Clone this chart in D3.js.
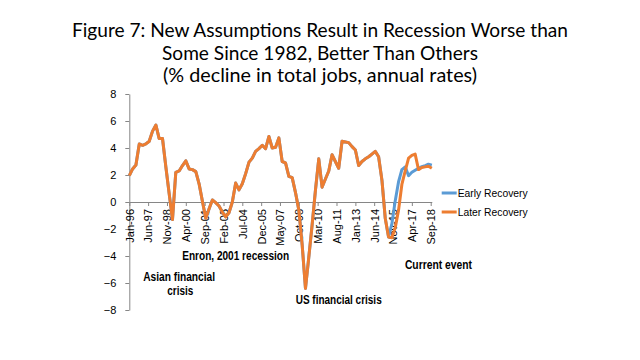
<!DOCTYPE html>
<html lang="en">
<head>
<meta charset="UTF-8">
<title>Figure 7</title>
<style>
  body { margin: 0; background: #fff; }
  svg { display: block; }
</style>
</head>
<body>
<svg width="640" height="360"></svg>
<script src="https://d3js.org/d3.v7.min.js"></script>
<script>
// quarterly values, Jan-96 .. Oct-18
const laterRecovery = [
  1.95, 2.45, 2.74, 4.3, 4.2, 4.3, 4.5, 5.25, 5.7, 4.7,
  4.7, 2.6, 0.6, -1.3, 2.2, 2.3, 2.7, 3.05, 2.45, 2.4,
  2.25, 1.35, 0.05, -1.2, -0.5, 0.15, -0.05, -0.3, -0.75, -1.1,
  -0.8, 0.0, 1.4, 0.9, 1.35, 2.1, 2.95, 3.25, 3.75, 3.95,
  4.2, 3.95, 4.85, 4.0, 4.05, 4.75, 3.0, 2.9, 1.9, 1.8,
  0.7, -0.6, -3.2, -6.4, -4.1, -1.7, 0.9, 3.2, 1.1, 1.7,
  2.3, 3.5, 3.0, 2.5, 4.5, 4.45, 4.4, 4.1, 3.85, 2.7,
  3.0, 3.2, 3.35, 3.55, 3.75, 3.35, 1.6, -1.2, -2.6, -2.65,
  -1.9, -0.6, 1.3, 2.3, 3.25, 3.45, 3.55, 2.4, 2.55, 2.6,
  2.65, 2.5
];
// early recovery is the same series until late 2015
const earlySplit = 79;
const earlyTail = [-1.6, 0.1, 1.5, 2.4, 2.6, 1.95, 2.2, 2.35, 2.5, 2.62, 2.7, 2.8, 2.72];
const earlyRecovery = laterRecovery.slice(0, earlySplit).concat(earlyTail);

const xTickLabels = ["Jan-96", "Jun-97", "Nov-98", "Apr-00", "Sep-01", "Feb-03", "Jul-04",
  "Dec-05", "May-07", "Oct-08", "Mar-10", "Aug-11", "Jan-13", "Jun-14", "Nov-15", "Apr-17", "Sep-18"];
const yTicks = [-8, -6, -4, -2, 0, 2, 4, 6, 8];

const titleLines = [
  "Figure 7: New Assumptions Result in Recession Worse than",
  "Some Since 1982, Better Than Others",
  "(% decline in total jobs, annual rates)"
];

const notes = [
  { text: "Enron, 2001 recession", date: "2004-01", value: -4.0, w: 107 },
  { text: "Asian financial", date: "1999-10", value: -5.55, w: 72 },
  { text: "crisis", date: "1999-11", value: -6.57, w: 26 },
  { text: "US financial crisis", date: "2011-10", value: -7.26, w: 86 },
  { text: "Current event", date: "2019-04", value: -4.67, w: 67 }
];

const series = [
  { name: "Early Recovery", color: "#5B9BD5", values: earlyRecovery },
  { name: "Later Recovery", color: "#ED7D31", values: laterRecovery }
];

const svg = d3.select("svg");
const start = new Date(1996, 0, 1);
const parseTick = d3.timeParse("%b-%y");
const parseMonth = d3.timeParse("%Y-%m");
const dateAt = i => d3.timeMonth.offset(start, 3 * i);

const x = d3.scaleTime()
  .domain([start, new Date(2018, 9, 1)])
  .range([129.3, 431.8]);
const y = d3.scaleLinear().domain([-8, 8]).range([310, 94]);

// title
svg.append("g").selectAll("text")
  .data(titleLines)
  .join("text")
    .attr("x", 320)
    .attr("y", (d, i) => 37 + i * 22.5)
    .attr("text-anchor", "middle")
    .attr("font-family", "Lato, 'Open Sans', sans-serif")
    .attr("font-size", 19)
    .attr("textLength", (d, i) => [496, 316, 314][i])
    .attr("lengthAdjust", "spacingAndGlyphs")
    .text(d => d);

// y axis
const yAxis = svg.append("g")
  .attr("transform", `translate(${x.range()[0]},0)`)
  .call(d3.axisLeft(y).tickValues(yTicks).tickSize(4).tickSizeOuter(0).tickPadding(9));
yAxis.select(".domain").attr("stroke", "#868686");
yAxis.selectAll(".tick line").attr("stroke", "#868686");
yAxis.selectAll("text")
  .attr("font-family", "'Liberation Sans', Arial, sans-serif")
  .attr("font-size", 11)
  .attr("fill", "#000");

// x axis at zero
const xAxis = svg.append("g")
  .attr("transform", `translate(0,${y(0)})`)
  .call(d3.axisBottom(x)
    .tickValues(xTickLabels.map(parseTick))
    .tickFormat((d, i) => xTickLabels[i])
    .tickSize(4).tickSizeOuter(0));
xAxis.select(".domain").attr("stroke", "#868686");
xAxis.selectAll(".tick line").attr("stroke", "#868686");
xAxis.selectAll("text")
  .attr("font-family", "'Liberation Sans', Arial, sans-serif")
  .attr("font-size", 11)
  .attr("fill", "#000")
  .attr("text-anchor", "end")
  .attr("transform", "rotate(-90)")
  .attr("x", -7)
  .attr("y", 0)
  .attr("dy", "0.35em");

// lines
const line = d3.line()
  .x((d, i) => x(dateAt(i)))
  .y(d => y(d));

svg.append("g").selectAll("path")
  .data(series)
  .join("path")
    .attr("fill", "none")
    .attr("stroke", d => d.color)
    .attr("stroke-width", 3)
    .attr("stroke-linejoin", "round")
    .attr("d", d => line(d.values));

// annotations
svg.append("g").selectAll("text")
  .data(notes)
  .join("text")
    .attr("x", d => x(parseMonth(d.date)))
    .attr("y", d => y(d.value))
    .attr("dy", "0.35em")
    .attr("text-anchor", "middle")
    .attr("font-family", "'Liberation Sans', Arial, sans-serif")
    .attr("font-weight", "bold")
    .attr("font-size", 12)
    .attr("textLength", d => d.w)
    .attr("lengthAdjust", "spacingAndGlyphs")
    .text(d => d.text);

// legend
const legend = svg.append("g").attr("transform", "translate(441.7,193)");
const item = legend.selectAll("g")
  .data(series)
  .join("g")
    .attr("transform", (d, i) => `translate(0,${i * 19})`);
item.append("line")
  .attr("x1", 0).attr("x2", 15)
  .attr("stroke", d => d.color)
  .attr("stroke-width", 3);
item.append("text")
  .attr("x", 16)
  .attr("dy", "0.35em")
  .attr("font-family", "'Liberation Sans', Arial, sans-serif")
  .attr("font-size", 11)
  .attr("textLength", 70)
  .attr("lengthAdjust", "spacingAndGlyphs")
  .text(d => d.name);
</script>
</body>
</html>
